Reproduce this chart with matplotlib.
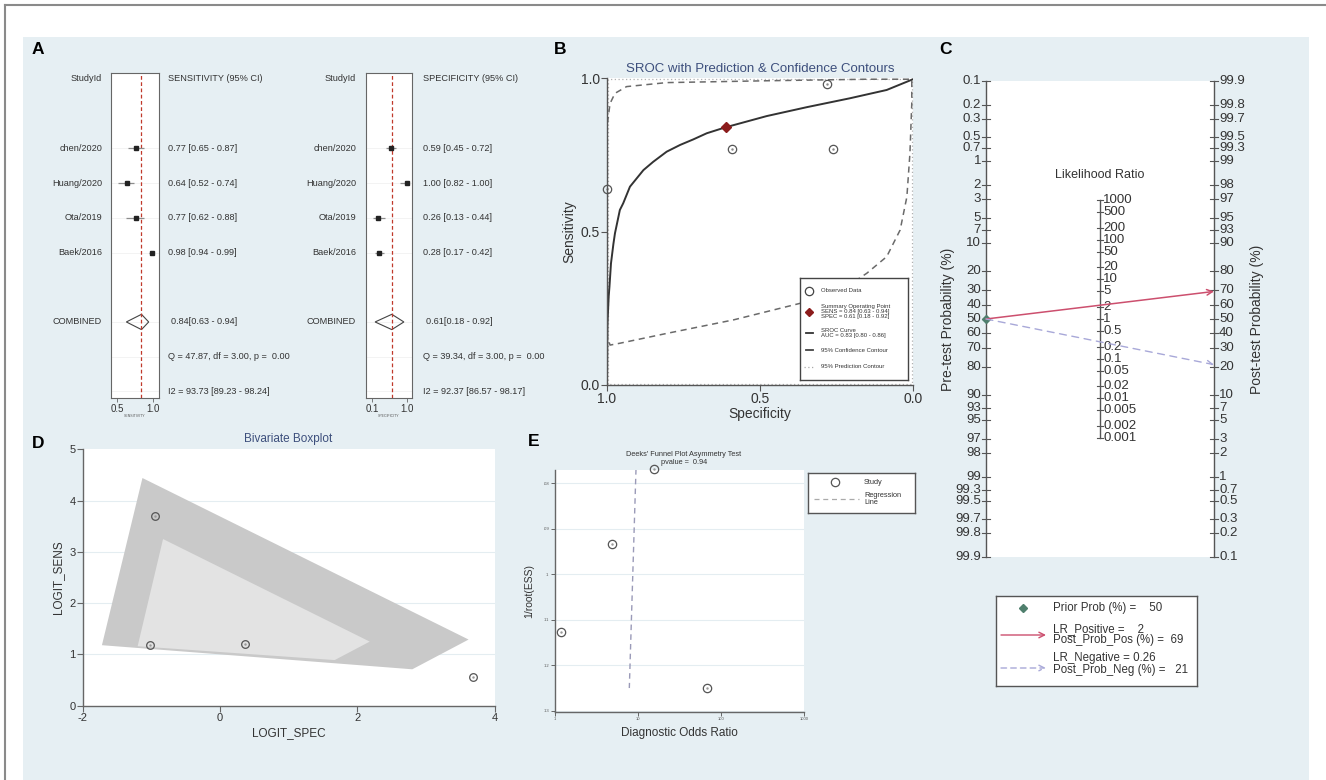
import numpy as np
import matplotlib
matplotlib.use('Agg')
import matplotlib.pyplot as plt
from matplotlib.patches import Rectangle, Polygon
import matplotlib.transforms as mtransforms

plt.rcParams['font.family'] = ['Liberation Sans', 'DejaVu Sans']
plt.rcParams['axes.unicode_minus'] = False

# ---------------- data ----------------
studies = ['chen/2020', 'Huang/2020', 'Ota/2019', 'Baek/2016']
sens = [0.77, 0.64, 0.77, 0.98]
sens_lo = [0.65, 0.52, 0.62, 0.94]
sens_hi = [0.87, 0.74, 0.88, 0.99]
spec = [0.59, 1.00, 0.26, 0.28]
spec_lo = [0.45, 0.82, 0.13, 0.17]
spec_hi = [0.72, 1.00, 0.44, 0.42]
pooled_sens = [0.84, 0.63, 0.94]
pooled_spec = [0.61, 0.18, 0.92]
sens_q_text = 'Q = 47.87, df = 3.00, p =  0.00'
sens_i2_text = 'I2 = 93.73 [89.23 - 98.24]'
spec_q_text = 'Q = 39.34, df = 3.00, p =  0.00'
spec_i2_text = 'I2 = 92.37 [86.57 - 98.17]'

# SROC
sroc_spec = [1.0, 0.9996, 0.999, 0.9985, 0.9945, 0.992, 0.987, 0.979, 0.974, 0.958, 0.947, 0.925, 0.903,
             0.881, 0.849, 0.805, 0.761, 0.718, 0.674, 0.614, 0.478, 0.347, 0.206, 0.086, 0.0]
sroc_sens = [0.005, 0.048, 0.157, 0.20, 0.288, 0.32, 0.396, 0.46, 0.494, 0.57, 0.592, 0.646, 0.673,
             0.70, 0.727, 0.76, 0.782, 0.80, 0.82, 0.839, 0.876, 0.905, 0.934, 0.961, 0.996]
conf_spec = [0.999, 0.999, 0.99, 0.974, 0.936, 0.805, 0.478, 0.151, 0.004, 0.004, 0.01, 0.02, 0.042, 0.086,
             0.151, 0.217, 0.369, 0.587, 0.805, 0.958, 0.99, 0.999]
conf_sens = [0.157, 0.85, 0.917, 0.95, 0.972, 0.985, 0.991, 0.996, 0.996, 0.917, 0.755, 0.613, 0.505, 0.418,
             0.364, 0.32, 0.266, 0.212, 0.168, 0.136, 0.130, 0.157]
pred_spec = [0.997, 0.997, 0.003, 0.003, 0.997]
pred_sens = [0.003, 0.997, 0.997, 0.003, 0.003]
summary_point = [0.61, 0.84]  # spec, sens

# Fagan nomogram
pre_ticks = ['0.1', '0.2', '0.3', '0.5', '0.7', '1', '2', '3', '5', '7', '10', '20', '30', '40', '50', '60',
             '70', '80', '90', '93', '95', '97', '98', '99', '99.3', '99.5', '99.7', '99.8', '99.9']
post_ticks = ['99.9', '99.8', '99.7', '99.5', '99.3', '99', '98', '97', '95', '93', '90', '80', '70', '60',
              '50', '40', '30', '20', '10', '7', '5', '3', '2', '1', '0.7', '0.5', '0.3', '0.2', '0.1']
lr_ticks = ['1000', '500', '200', '100', '50', '20', '10', '5', '2', '1', '0.5', '0.2', '0.1', '0.05',
            '0.02', '0.01', '0.005', '0.002', '0.001']
prior_prob = 50
lr_pos = 2
post_prob_pos = 69
lr_neg = 0.26
post_prob_neg = 21

# Bivariate boxplot
logit_spec = [0.37, -1.02, -0.95, 3.68]
logit_sens = [1.21, 1.18, 3.70, 0.55]
outer_x = [-1.13, -1.72, 2.80, 3.62]
outer_y = [4.44, 1.18, 0.71, 1.29]
inner_x = [-0.83, -1.20, 1.67, 2.18]
inner_y = [3.25, 1.16, 0.89, 1.25]

# Deeks funnel
dor = [4.9, 67.7, 1.18, 15.6]
inv_root_ess = [0.0934, 0.1250, 0.1126, 0.0769]
reg_dor = [9.46, 7.86]
reg_ess = [0.0769, 0.125]
deeks_p = 0.94

# ---------------- figure ----------------
W, H = 1326, 780
fig = plt.figure(figsize=(W / 100, H / 100), dpi=100)
fig.patch.set_facecolor('white')


def rect(x0, y0, x1, y1):
    return [x0 / W, 1 - y1 / H, (x1 - x0) / W, (y1 - y0) / H]


def fx(x):
    return x / W


def fy(y):
    return 1 - y / H


BG = '#e6eff3'
TITLE_C = '#3d4f7c'
TXT = '#333333'
fig.patches.append(Rectangle((fx(23), 0), fx(1309) - fx(23), fy(37), transform=fig.transFigure,
                             facecolor=BG, edgecolor='none', zorder=-10))
fig.add_artist(plt.Line2D([fx(5), 1], [fy(5), fy(5)], color='#8a8a8a', lw=1.5))
fig.add_artist(plt.Line2D([fx(5), fx(5)], [fy(5), 0], color='#8a8a8a', lw=1.5))

for lab, x, y in [('A', 38, 50), ('B', 560, 50), ('C', 945, 50), ('D', 38, 443), ('E', 534, 442)]:
    fig.text(fx(x), fy(y), lab, fontsize=12.5, fontweight='bold', ha='center', va='center', color='black')

# ---------------- Panel A ----------------
rows = [2, 3, 4, 5]


def forest(x0, x1, xlim, ticks, tlabels, est, lo, hi, pooled, name_right, text_left, header, qtxt, i2txt,
           xname):
    ax = fig.add_axes(rect(x0, 73, x1, 398))
    ax.set_xlim(xlim)
    ax.set_ylim(9.19, -0.17)
    ax.set_facecolor('white')
    for s in ax.spines.values():
        s.set_color('#666666')
        s.set_linewidth(0.8)
    ax.set_yticks([])
    ax.set_xticks(ticks)
    ax.set_xticklabels(tlabels, fontsize=7, color=TXT)
    ax.tick_params(axis='x', length=3, width=0.6, color='#666666', pad=1)
    for r in rows + [7, 8, 9]:
        ax.axhline(r, color='#f1f1f1', lw=0.6, zorder=0)
    ax.axvline(pooled[0], color='#c0392b', ls=(0, (3, 2)), lw=0.9)
    ax.hlines(rows, lo, hi, color='#8c8c8c', lw=0.9)
    ax.plot(est, rows, 's', color='#222222', ms=2.4)
    e, l, h = pooled
    ax.add_patch(Polygon([(l, 7), (e, 6.78), (h, 7), (e, 7.22)], closed=True, facecolor='none',
                         edgecolor='#444444', lw=0.8))
    tr = mtransforms.blended_transform_factory(fig.transFigure, ax.transData)
    fs = 6.6
    ax.text(fx(name_right), 0, 'StudyId', transform=tr, ha='right', va='center', fontsize=fs, color=TXT)
    ax.text(fx(text_left), 0, header, transform=tr, ha='left', va='center', fontsize=fs, color=TXT)
    for r, nm, v, a, b in zip(rows, studies, est, lo, hi):
        ax.text(fx(name_right), r, nm, transform=tr, ha='right', va='center', fontsize=fs, color=TXT)
        ax.text(fx(text_left), r, f'{v:.2f} [{a:.2f} - {b:.2f}]', transform=tr, ha='left', va='center',
                fontsize=fs, color=TXT)
    ax.text(fx(name_right), 7, 'COMBINED', transform=tr, ha='right', va='center', fontsize=fs, color=TXT)
    ax.text(fx(text_left + 3), 7, f'{e:.2f}[{l:.2f} - {h:.2f}]', transform=tr, ha='left', va='center',
            fontsize=fs, color=TXT)
    ax.text(fx(text_left), 8, qtxt, transform=tr, ha='left', va='center', fontsize=fs, color=TXT)
    ax.text(fx(text_left), 9, i2txt, transform=tr, ha='left', va='center', fontsize=fs, color=TXT)
    fig.text(fx((x0 + x1) / 2), fy(416), xname, fontsize=2.5, ha='center', va='center', color='#555555')
    return ax


forest(111, 159, (0.417, 1.083), [0.5, 1.0], ['0.5', '1.0'], sens, sens_lo, sens_hi, pooled_sens,
       102, 168, 'SENSITIVITY (95% CI)', sens_q_text, sens_i2_text, 'SENSITIVITY')
forest(366, 412, (-0.054, 1.129), [0.1, 1.0], ['0.1', '1.0'], spec, spec_lo, spec_hi, pooled_spec,
       356, 423, 'SPECIFICITY (95% CI)', spec_q_text, spec_i2_text, 'SPECIFICITY')

# ---------------- Panel B ----------------
axB = fig.add_axes(rect(607, 78, 913, 385))
axB.set_facecolor('white')
axB.set_xlim(1, 0)
axB.set_ylim(0, 1)
for s in ['top', 'right']:
    axB.spines[s].set_visible(False)
for s in ['left', 'bottom']:
    axB.spines[s].set_color('#555555')
    axB.spines[s].set_linewidth(1.0)
axB.set_xticks([1.0, 0.5, 0.0])
axB.set_xticklabels(['1.0', '0.5', '0.0'])
axB.set_yticks([0.0, 0.5, 1.0])
axB.set_yticklabels(['0.0', '0.5', '1.0'])
axB.tick_params(labelsize=10, labelcolor=TXT, length=4, width=0.8, color='#555555', pad=1)
axB.set_xlabel('Specificity', fontsize=10, color=TXT, labelpad=1)
axB.set_ylabel('Sensitivity', fontsize=10, color=TXT, labelpad=3)
axB.set_title('SROC with Prediction & Confidence Contours', fontsize=9.5, color=TITLE_C, pad=4)
axB.plot(pred_spec, pred_sens, color='#b0b0b0', lw=0.9, ls=(0, (1, 2)), clip_on=False)
axB.plot(conf_spec, conf_sens, color='#6a6a6a', lw=1.1, ls=(0, (4, 3)))
axB.plot(sroc_spec, sroc_sens, color='#333333', lw=1.4)
axB.plot(spec, sens, 'o', mfc='none', mec='#555555', ms=6, mew=0.9, clip_on=False)
axB.plot(spec, sens, '.', color='#888888', ms=1.5, clip_on=False)
axB.plot([summary_point[0]], [summary_point[1]], 'D', color='#8b1c1c', ms=5)

lgB = fig.add_axes(rect(800, 278, 908, 380))
lgB.set_xlim(0, 108)
lgB.set_ylim(102, 0)
lgB.set_xticks([])
lgB.set_yticks([])
lgB.set_facecolor('white')
for s in lgB.spines.values():
    s.set_color('#444444')
    s.set_linewidth(1.0)
fsB = 4.3
lgB.plot([9.3], [12.7], 'o', mfc='none', mec='#444444', ms=6, mew=0.9)
lgB.text(21, 12.7, 'Observed Data', fontsize=fsB, va='center', color=TXT)
lgB.plot([9.3], [33.7], 'D', color='#8b1c1c', ms=4)
lgB.text(21, 33.7, 'Summary Operating Point\nSENS = 0.84 [0.63 - 0.94]\nSPEC = 0.61 [0.18 - 0.92]',
         fontsize=fsB, va='center', color=TXT, linespacing=1.0)
lgB.plot([6, 13], [54.7, 54.7], color='#333333', lw=1.3)
lgB.text(21, 54.7, 'SROC Curve\nAUC = 0.83 [0.80 - 0.86]', fontsize=fsB, va='center', color=TXT,
         linespacing=1.0)
lgB.plot([6, 13], [72, 72], color='#444444', lw=1.3)
lgB.text(21, 72, '95% Confidence Contour', fontsize=fsB, va='center', color=TXT)
lgB.plot([4, 14], [88.7, 88.7], color='#aaaaaa', lw=0.9, ls=(0, (1, 2)))
lgB.text(21, 88.7, '95% Prediction Contour', fontsize=fsB, va='center', color=TXT)

# ---------------- Panel C ----------------
def logit(p):
    return np.log(p / (1 - p))


L = logit(0.999)
axC = fig.add_axes(rect(986, 81, 1214, 557))
axC.set_xlim(0, 1)
axC.set_ylim(-L, L)
axC.set_facecolor('white')
for s in axC.spines.values():
    s.set_visible(False)
axC.set_xticks([])
axC.set_yticks([])
tk = 0.018
fsC = 9.5
axC.plot([0, 0], [-L, L], color='#555555', lw=1.0, clip_on=False)
axC.plot([1, 1], [-L, L], color='#555555', lw=1.0, clip_on=False)
for t in pre_ticks:
    u = -logit(float(t) / 100)
    axC.plot([-tk, tk], [u, u], color='#555555', lw=0.8, clip_on=False)
    axC.text(-0.022, u, t, ha='right', va='center', fontsize=fsC, color=TXT)
for t in post_ticks:
    u = logit(float(t) / 100)
    axC.plot([1 - tk, 1 + tk], [u, u], color='#555555', lw=0.8, clip_on=False)
    axC.text(1.022, u, t, ha='left', va='center', fontsize=fsC, color=TXT)
lr_u = [np.log(float(t)) / 2 for t in lr_ticks]
axC.plot([0.5, 0.5], [max(lr_u), min(lr_u)], color='#555555', lw=1.0)
for t, u in zip(lr_ticks, lr_u):
    axC.plot([0.5 - 0.012, 0.5 + 0.012], [u, u], color='#555555', lw=0.8)
    axC.text(0.515, u, t, ha='left', va='center', fontsize=fsC, color=TXT, linespacing=0.8)
u0 = -logit(prior_prob / 100)
axC.annotate('', xy=(1, logit(post_prob_pos / 100)), xytext=(0, u0),
             arrowprops=dict(arrowstyle='->', color='#cc4f6e', lw=1.1, shrinkA=0, shrinkB=0))
axC.annotate('', xy=(1, logit(post_prob_neg / 100)), xytext=(0, u0),
             arrowprops=dict(arrowstyle='->', color='#a8a8d8', lw=1.0, ls=(0, (5, 4)), shrinkA=0,
                             shrinkB=0))
axC.plot([0], [u0], 'D', color='#4f7f6d', ms=4, clip_on=False)
fig.text(fx(1100), fy(175), 'Likelihood Ratio', fontsize=9, ha='center', va='center', color=TXT)
fig.text(fx(948), fy(319), 'Pre-test Probability (%)', rotation=90, fontsize=10, ha='center', va='center',
         color=TXT)
fig.text(fx(1257), fy(319), 'Post-test Probability (%)', rotation=90, fontsize=10, ha='center', va='center',
         color=TXT)

lgC = fig.add_axes(rect(996, 596, 1197, 686))
lgC.set_xlim(0, 201)
lgC.set_ylim(90, 0)
lgC.set_xticks([])
lgC.set_yticks([])
lgC.set_facecolor('white')
for s in lgC.spines.values():
    s.set_color('#555555')
    s.set_linewidth(1.0)
fsL = 8.3
lgC.plot([27.3], [12.3], 'D', color='#4f7f6d', ms=4)
lgC.text(57.3, 12.3, f'Prior Prob (%) =    {prior_prob}', fontsize=fsL, va='center', color=TXT)
lgC.annotate('', xy=(50, 39), xytext=(5, 39),
             arrowprops=dict(arrowstyle='->', color='#cc4f6e', lw=1.0, shrinkA=0, shrinkB=0))
lgC.text(57.3, 38.5, f'LR_Positive =    {lr_pos}\nPost_Prob_Pos (%) =  {post_prob_pos}', fontsize=fsL,
         va='center', color=TXT, linespacing=0.95)
lgC.annotate('', xy=(50, 72), xytext=(5, 72),
             arrowprops=dict(arrowstyle='->', color='#a8a8d8', lw=1.0, ls=(0, (4, 3)), shrinkA=0, shrinkB=0))
lgC.text(57.3, 68, f'LR_Negative = {lr_neg}\nPost_Prob_Neg (%) =   {post_prob_neg}', fontsize=fsL,
         va='center', color=TXT, linespacing=0.95)

# ---------------- Panel D ----------------
axD = fig.add_axes(rect(82.7, 449.3, 494.7, 705.7))
axD.set_facecolor('white')
axD.set_xlim(-2, 4)
axD.set_ylim(0, 5)
for s in ['top', 'right']:
    axD.spines[s].set_visible(False)
for s in ['left', 'bottom']:
    axD.spines[s].set_color('#666666')
    axD.spines[s].set_linewidth(1.0)
axD.set_yticks([0, 1, 2, 3, 4, 5])
axD.set_xticks([-2, 0, 2, 4])
axD.tick_params(labelsize=8, labelcolor=TXT, length=4, width=0.8, color='#666666', pad=1)
for v in [1, 2, 3, 4]:
    axD.axhline(v, color='#e4edf1', lw=0.8, zorder=0)
axD.add_patch(Polygon(list(zip(outer_x, outer_y)), closed=True, facecolor='#c9c9c9', edgecolor='none', zorder=1))
axD.add_patch(Polygon(list(zip(inner_x, inner_y)), closed=True, facecolor='#e3e3e3', edgecolor='none', zorder=2))
axD.plot(logit_spec, logit_sens, 'o', mfc='none', mec='#555555', ms=5.5, mew=0.9, zorder=3, clip_on=False)
axD.plot(logit_spec, logit_sens, '.', color='#999999', ms=1.5, zorder=3, clip_on=False)
axD.set_xlabel('LOGIT_SPEC', fontsize=8.5, color=TXT, labelpad=3)
axD.set_ylabel('LOGIT_SENS', fontsize=8.5, color=TXT, labelpad=4)
fig.text(fx(288), fy(439), 'Bivariate Boxplot', fontsize=8.5, color=TITLE_C, ha='center', va='center')

# ---------------- Panel E ----------------
axE = fig.add_axes(rect(555, 470, 804, 711.7))
axE.set_facecolor('white')
axE.set_xscale('log')
axE.set_xlim(1, 1000)
axE.set_ylim(0.1302, 0.0771)
for s in ['top', 'right']:
    axE.spines[s].set_visible(False)
for s in ['left', 'bottom']:
    axE.spines[s].set_color('#666666')
    axE.spines[s].set_linewidth(1.0)
yt = [0.08, 0.09, 0.10, 0.11, 0.12, 0.13]
axE.set_yticks(yt)
axE.set_yticklabels(['.08', '.09', '.1', '.11', '.12', '.13'])
axE.set_xticks([1, 10, 100, 1000])
axE.set_xticklabels(['1', '10', '100', '1000'])
axE.minorticks_off()
axE.tick_params(labelsize=3, labelcolor='#555555', length=3, width=0.7, color='#666666', pad=1)
for v in yt:
    axE.axhline(v, color='#e4edf1', lw=0.8, zorder=0)
axE.plot(reg_dor, reg_ess, color='#9a9ab8', lw=1.0, ls=(0, (4, 3)))
axE.plot(dor, inv_root_ess, 'o', mfc='none', mec='#555555', ms=6, mew=0.9, clip_on=False)
axE.plot(dor, inv_root_ess, '.', color='#999999', ms=1.5, clip_on=False)
axE.set_xlabel('Diagnostic Odds Ratio', fontsize=8.5, color=TXT, labelpad=4)
axE.set_ylabel('1/root(ESS)', fontsize=7.5, color=TXT, labelpad=7)
fig.text(fx(684), fy(454), "Deeks' Funnel Plot Asymmetry Test", fontsize=5.3, color=TXT, ha='center', va='center')
fig.text(fx(684), fy(462), f'pvalue =  {deeks_p:.2f}', fontsize=5.3, color=TXT, ha='center', va='center')

lgE = fig.add_axes(rect(808, 473, 915, 513))
lgE.set_xlim(0, 107)
lgE.set_ylim(40, 0)
lgE.set_xticks([])
lgE.set_yticks([])
lgE.set_facecolor('white')
for s in lgE.spines.values():
    s.set_color('#555555')
    s.set_linewidth(1.0)
lgE.plot([27], [9], 'o', mfc='none', mec='#555555', ms=6, mew=0.9)
lgE.text(56, 9, 'Study', fontsize=5.3, va='center', color=TXT)
lgE.plot([6, 51], [26, 26], color='#aaaaaa', lw=0.9, ls=(0, (4, 3)))
lgE.text(56, 26, 'Regression\nLine', fontsize=5.3, va='center', color=TXT, linespacing=0.9)

fig.savefig('out.png', dpi=100, facecolor='white')
